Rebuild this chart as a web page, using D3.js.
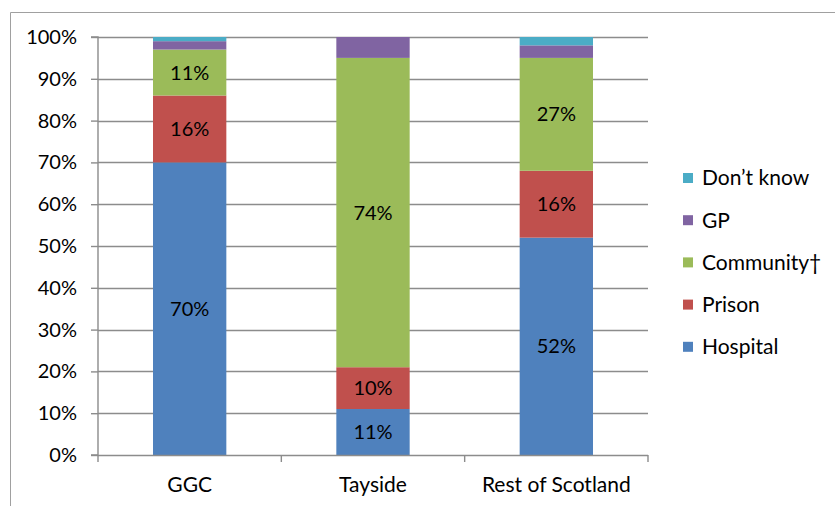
<!DOCTYPE html>
<html>
<head>
<meta charset="utf-8">
<script src="https://cdn.jsdelivr.net/npm/d3@7"></script>
<style>
  html, body { margin: 0; padding: 0; background: #fff; }
  svg { display: block; font-family: "Lato", "Open Sans", sans-serif; }
</style>
</head>
<body>
<svg id="chart" width="835" height="506"></svg>
<script>
// Regions along the x axis
const categories = ["GGC", "Tayside", "Rest of Scotland"];

// Share of respondents (%) by setting, one array per series
const hospital  = [70, 11, 52];
const prison    = [16, 10, 16];
const community = [11, 74, 27];
const gp        = [2, 5, 3];
const dontKnow  = [1, 0, 2];

const seriesNames  = ["Hospital", "Prison", "Community\u2020", "GP", "Don\u2019t know"];
const seriesColors = ["#4F81BD", "#C0504D", "#9BBB59", "#8064A2", "#4BACC6"];
const labelledSeries = ["Hospital", "Prison", "Community\u2020"];

const yTicks = [0, 10, 20, 30, 40, 50, 60, 70, 80, 90, 100];

const seriesValues = [hospital, prison, community, gp, dontKnow];
const rows = categories.map((c, i) => {
  const r = { category: c };
  seriesNames.forEach((s, k) => { r[s] = seriesValues[k][i]; });
  return r;
});

const svg = d3.select("#chart");
const plot = { left: 98, right: 648, top: 37, bottom: 455 };
const textSize = 21;
const numberSize = 20;
const gridColor = "#8c8c8c";

// Outer chart frame
svg.append("path")
  .attr("d", "M10.5,506 V12.5 H835")
  .attr("fill", "none")
  .attr("stroke", "#a0a0a0")
  .attr("stroke-width", 1);

const x = d3.scaleBand().domain(categories).range([plot.left, plot.right]).padding(0);
const y = d3.scaleLinear().domain([0, 100]).range([plot.bottom, plot.top]);

// Horizontal gridlines
svg.append("g")
  .selectAll("line")
  .data(yTicks.filter(t => t > 0))
  .join("line")
  .attr("x1", plot.left).attr("x2", plot.right)
  .attr("y1", d => Math.round(y(d)) + 0.5).attr("y2", d => Math.round(y(d)) + 0.5)
  .attr("stroke", gridColor).attr("stroke-width", 1.4);

// Stacked bars
const stack = d3.stack().keys(seriesNames);
const stacked = stack(rows);
const barFrac = 0.4;
const barW = x.bandwidth() * barFrac;
const barX = c => x(c) + (x.bandwidth() - barW) / 2;

const layers = svg.append("g")
  .selectAll("g")
  .data(stacked)
  .join("g")
  .attr("fill", (d, i) => seriesColors[i]);

layers.selectAll("rect")
  .data(d => d.filter(p => p[1] - p[0] > 0))
  .join("rect")
  .attr("x", d => barX(d.data.category))
  .attr("width", barW)
  .attr("y", d => y(d[1]))
  .attr("height", d => y(d[0]) - y(d[1]));

// Value labels inside the main segments
const labelG = svg.append("g")
  .attr("font-size", numberSize)
  .attr("fill", "#000")
  .attr("text-anchor", "middle");
stacked.forEach(layer => {
  if (!labelledSeries.includes(layer.key)) return;
  layer.forEach(p => {
    const v = p[1] - p[0];
    if (v <= 0) return;
    labelG.append("text")
      .attr("x", x(p.data.category) + x.bandwidth() / 2)
      .attr("y", y((p[0] + p[1]) / 2))
      .attr("dy", "0.35em")
      .text(d3.format(".0f")(v) + "%");
  });
});

// Y axis
const yAxis = d3.axisLeft(y)
  .tickValues(yTicks)
  .tickFormat(d => d + "%")
  .tickSize(7)
  .tickPadding(14);
const yg = svg.append("g")
  .attr("transform", `translate(${plot.left},0)`)
  .call(yAxis);
yg.select(".domain").attr("stroke", gridColor).attr("stroke-width", 1.4)
  .attr("d", `M-7,${plot.bottom}H0V${plot.top}H-7`);
yg.selectAll(".tick line").attr("stroke", gridColor).attr("stroke-width", 1.4);
yg.selectAll(".tick text")
  .attr("font-size", numberSize)
  .attr("font-family", "Lato, 'Open Sans', sans-serif")
  .attr("fill", "#000");

// X axis with tick marks at category boundaries
const xg = svg.append("g").attr("transform", `translate(0,${plot.bottom})`);
xg.append("line")
  .attr("x1", plot.left).attr("x2", plot.right)
  .attr("y1", 0.5).attr("y2", 0.5)
  .attr("stroke", gridColor).attr("stroke-width", 1.4);
const boundaries = categories.map(c => x(c)).concat([x(categories[categories.length - 1]) + x.bandwidth()]);
xg.selectAll("line.tk")
  .data(boundaries)
  .join("line")
  .attr("class", "tk")
  .attr("x1", d => d).attr("x2", d => d)
  .attr("y1", 0).attr("y2", 7)
  .attr("stroke", gridColor).attr("stroke-width", 1.4);
xg.selectAll("text")
  .data(categories)
  .join("text")
  .attr("x", d => x(d) + x.bandwidth() / 2)
  .attr("y", 30)
  .attr("dy", "0.35em")
  .attr("text-anchor", "middle")
  .attr("font-size", textSize)
  .attr("fill", "#000")
  .text(d => d);

// Legend, top entry is the last series
const legendOrder = seriesNames.map((s, i) => ({ name: s, color: seriesColors[i] })).reverse();
const legend = svg.append("g").attr("transform", "translate(683,178)");
const items = legend.selectAll("g")
  .data(legendOrder)
  .join("g")
  .attr("transform", (d, i) => `translate(0,${i * 42.2})`);
items.append("rect")
  .attr("x", 0).attr("y", -5)
  .attr("width", 10).attr("height", 10)
  .attr("fill", d => d.color);
items.append("text")
  .attr("x", 19).attr("y", 0)
  .attr("dy", "0.35em")
  .attr("font-size", textSize)
  .attr("fill", "#000")
  .text(d => d.name);
</script>
</body>
</html>
